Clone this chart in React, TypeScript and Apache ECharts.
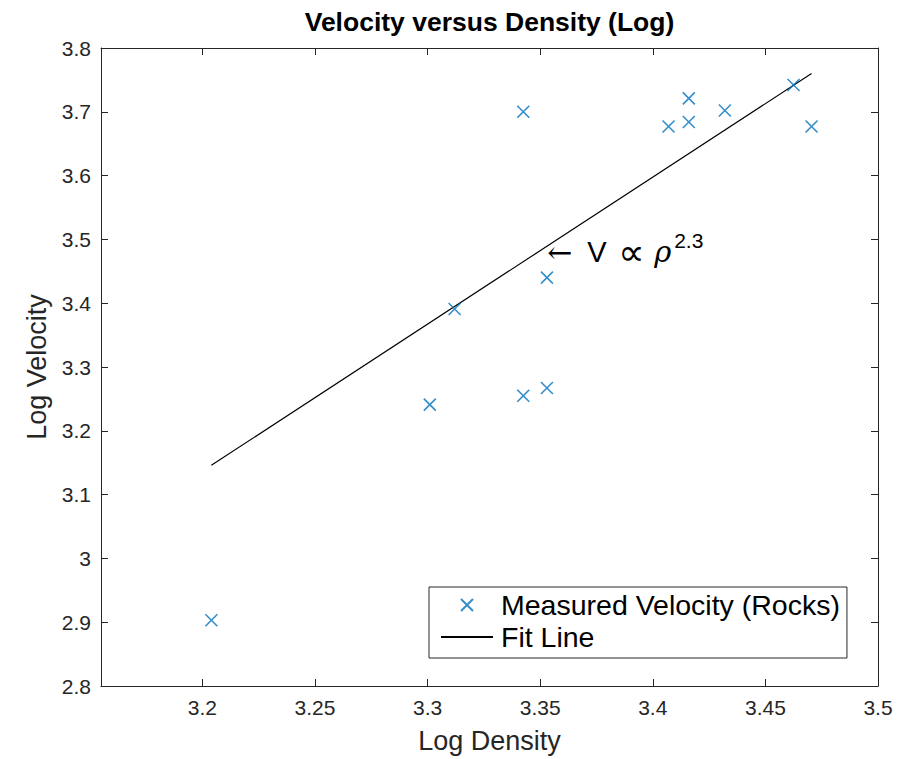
import React, { useEffect, useRef } from "react";
import * as echarts from "echarts";

const densityLog = [3.204, 3.301, 3.312, 3.3425, 3.3425, 3.353, 3.353, 3.407, 3.416, 3.416, 3.432, 3.4625, 3.4705];
const velocityLog = [2.903, 3.241, 3.391, 3.255, 3.700, 3.267, 3.440, 3.677, 3.721, 3.684, 3.702, 3.742, 3.677];
const fitX = [3.204, 3.4705];
const fitY = [3.146, 3.760];
const xTicks = [3.2, 3.25, 3.3, 3.35, 3.4, 3.45, 3.5];
const yTicks = [2.8, 2.9, 3.0, 3.1, 3.2, 3.3, 3.4, 3.5, 3.6, 3.7, 3.8];
const annotationAt = [3.3531, 3.48];

const AX = "#262626";
const BLUE = "#0072BD";
const FONT = "'Liberation Sans', Arial, Helvetica, sans-serif";
const SERIF = "'DejaVu Serif', serif";
const CROSS = "path://M0,0L12,12M12,0L0,12";

export default function App() {
  const ref = useRef<HTMLDivElement>(null);
  useEffect(() => {
    if (!ref.current) return;
    const chart = echarts.init(ref.current, null, { renderer: "svg" });
    const fmt = (v: number) => String(Math.round(v * 100) / 100);
    const baseX = {
      type: "value" as const,
      min: 3.155,
      max: 3.5,
      splitLine: { show: false },
      axisLine: { show: true, onZero: false, lineStyle: { color: AX, width: 1 } },
      axisTick: { show: true, inside: true, length: 7, customValues: xTicks, lineStyle: { color: AX } },
    };
    const baseY = {
      type: "value" as const,
      min: 2.8,
      max: 3.8,
      splitLine: { show: false },
      axisLine: { show: true, onZero: false, lineStyle: { color: AX, width: 1 } },
      axisTick: { show: true, inside: true, length: 7, customValues: yTicks, lineStyle: { color: AX } },
    };
    chart.setOption({
      animation: false,
      backgroundColor: "#fff",
      textStyle: { fontFamily: FONT },
      title: {
        text: "Velocity versus Density (Log)",
        left: 489.5,
        top: 8,
        padding: 0,
        textAlign: "center",
        textStyle: { fontFamily: FONT, fontSize: 26.5, fontWeight: "bold", color: "#000" },
      },
      grid: { left: 101, right: 35, top: 48, bottom: 71, containLabel: false },
      xAxis: [
        {
          ...baseX,
          position: "bottom",
          name: "Log Density",
          nameLocation: "middle",
          nameGap: 41,
          nameTextStyle: { fontFamily: FONT, fontSize: 27, color: AX },
          axisLabel: { show: true, customValues: xTicks, margin: 11, fontSize: 21, color: AX, fontFamily: FONT, formatter: fmt },
        },
        { ...baseX, position: "top", axisLabel: { show: false } },
      ],
      yAxis: [
        {
          ...baseY,
          position: "left",
          name: "Log Velocity",
          nameLocation: "middle",
          nameGap: 50,
          nameTextStyle: { fontFamily: FONT, fontSize: 27, color: AX },
          axisLabel: { show: true, customValues: yTicks, margin: 10, fontSize: 21, color: AX, fontFamily: FONT, formatter: fmt },
        },
        { ...baseY, position: "right", axisLabel: { show: false } },
      ],
      legend: {
        orient: "vertical",
        left: 429,
        top: 587,
        padding: [3, 7, 6, 11],
        itemGap: 2,
        itemWidth: 52,
        itemHeight: 12,
        borderColor: AX,
        borderWidth: 1,
        borderRadius: 0,
        backgroundColor: "#fff",
        textStyle: { fontFamily: FONT, fontSize: 28.5, color: "#000", lineHeight: 30, padding: [0, 0, 0, 3] },
        data: [
          { name: "Measured Velocity (Rocks)", icon: CROSS },
          { name: "Fit Line", itemStyle: { color: "transparent", borderWidth: 0, opacity: 0 } },
        ],
      },
      series: [
        {
          name: "Measured Velocity (Rocks)",
          type: "scatter",
          symbol: CROSS,
          symbolSize: 12,
          symbolKeepAspect: true,
          itemStyle: { color: "none", borderColor: BLUE, borderWidth: 1.6 },
          data: densityLog.map((d, i) => [d, velocityLog[i]]),
          z: 3,
        },
        {
          name: "Fit Line",
          type: "line",
          showSymbol: false,
          symbol: "none",
          lineStyle: { color: "#000", width: 1.2 },
          itemStyle: { color: "#000" },
          data: fitX.map((d, i) => [d, fitY[i]]),
          z: 2,
        },
      ],
    });
    const p = chart.convertToPixel({ gridIndex: 0 }, annotationAt) as number[];
    chart.setOption({
      graphic: [
        {
          type: "text",
          x: p[0],
          y: p[1],
          style: {
            text: "{a|←}{m|V}{p|∝}{r|ρ}{s|2.3}",
            textAlign: "left",
            textVerticalAlign: "middle",
            fill: "#000",
            rich: {
              a: { fontSize: 30, lineHeight: 44, width: 40, fontFamily: SERIF, color: "#444" },
              m: { fontSize: 29, lineHeight: 44, width: 31, fontFamily: FONT, color: "#000" },
              p: { fontSize: 37, lineHeight: 44, width: 36, fontFamily: "'DejaVu Sans', sans-serif", color: "#777" },
              r: { fontSize: 29, lineHeight: 44, width: 20, fontFamily: SERIF, fontStyle: "italic", color: "#000" },
              s: { fontSize: 21, lineHeight: 22, verticalAlign: "top", fontFamily: FONT, color: "#000" },
            },
          },
        },
      ],
    });
    return () => chart.dispose();
  }, []);
  return <div ref={ref} style={{ position: "absolute", left: 0, top: 0, width: 913, height: 759 }} />;
}
